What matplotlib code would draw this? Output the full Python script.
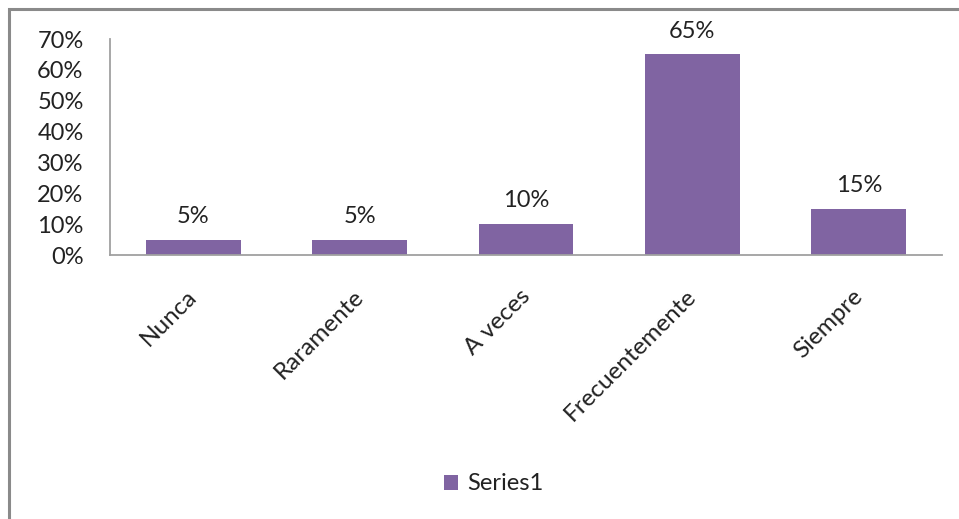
import matplotlib
matplotlib.use("Agg")
import matplotlib.pyplot as plt
import matplotlib.transforms as mtransforms
from matplotlib.patches import Rectangle

categories = ["Nunca", "Raramente", "A veces", "Frecuentemente", "Siempre"]
values = [5, 5, 10, 65, 15]
yticks = [0, 10, 20, 30, 40, 50, 60, 70]
series_name = "Series1"

plt.rcParams['font.family'] = ['Lato', 'DejaVu Sans']
color = "#8064A2"
W, H = 959, 519
fig = plt.figure(figsize=(W/100, H/100), dpi=100)
fig.patch.set_facecolor("white")

# outer frame (extends past right/bottom edges)
fig.add_artist(Rectangle((9/W, -0.05), 1.2, 1 - 9/H + 0.05, transform=fig.transFigure,
                         fill=False, edgecolor="#8a8a8a", linewidth=2.2))

ax = fig.add_axes([110/W, 1 - 255/H, (942-110)/W, (255-39)/H])
x = range(len(categories))
bars = ax.bar(x, values, width=0.57, color=color)
ax.set_xlim(-0.5, len(categories) - 0.5)
ax.set_ylim(0, 70)
ax.set_yticks(yticks)
ax.set_yticklabels([f"{v}%" for v in yticks], fontsize=17, color="#222222")
ax.set_xticks(list(x))
ax.set_xticklabels(categories, rotation=45, ha="right", rotation_mode="anchor",
                   fontsize=17.5, color="#222222")
ax.tick_params(axis="both", length=0)
ax.tick_params(axis="y", pad=19)
ax.tick_params(axis="x", pad=22)
shift = mtransforms.ScaledTranslation(-7/100, 0, fig.dpi_scale_trans)
for lab in ax.get_xticklabels():
    lab.set_transform(lab.get_transform() + shift)
for s in ["top", "right"]:
    ax.spines[s].set_visible(False)
for s in ["left", "bottom"]:
    ax.spines[s].set_color("#a0a0a0")
    ax.spines[s].set_linewidth(1.3)

for xi, v in zip(x, values):
    ax.annotate(f"{v}%", (xi, v), xytext=(0, 12), textcoords="offset points",
                ha="center", va="baseline", fontsize=17, color="#222222")

leg = fig.legend([bars], [series_name], loc="center", bbox_to_anchor=(494/W, 1 - 484/H),
                 frameon=False, fontsize=17, handlelength=0.6, handleheight=0.6,
                 handletextpad=0.4)
for t in leg.get_texts():
    t.set_color("#222222")

fig.savefig("out.png", dpi=100)
